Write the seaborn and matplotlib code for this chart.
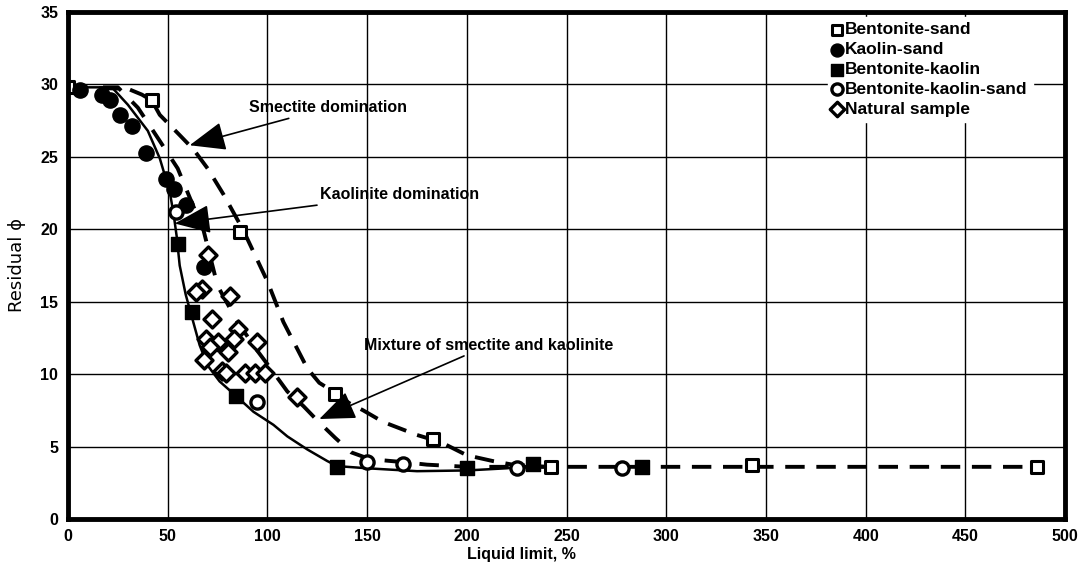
import numpy as np
import pandas as pd
import matplotlib
matplotlib.use("Agg")
import matplotlib.pyplot as plt
import seaborn as sns

# ---------------- data ----------------
bent_sand_x = [0, 42, 86, 134, 183, 242, 343, 486]
bent_sand_y = [29.8, 28.9, 19.8, 8.6, 5.5, 3.6, 3.7, 3.6]

kaolin_sand_x = [6, 17, 21, 26, 32, 39, 49, 53, 59, 68]
kaolin_sand_y = [29.6, 29.3, 28.9, 27.9, 27.1, 25.3, 23.5, 22.8, 21.7, 17.4]

bent_kaolin_x = [55, 62, 84, 135, 200, 233, 288]
bent_kaolin_y = [19.0, 14.3, 8.5, 3.6, 3.5, 3.8, 3.6]

bks_x = [54, 95, 150, 168, 225, 278]
bks_y = [21.2, 8.1, 3.9, 3.8, 3.5, 3.5]

natural_x = [70, 67, 64, 81, 72, 85, 83, 69, 75, 71, 80, 68, 77, 79, 89, 94, 99, 95, 115]
natural_y = [18.2, 15.9, 15.7, 15.4, 13.8, 13.1, 12.4, 12.4, 12.2, 11.9, 11.5, 11.0,
             10.2, 10.1, 10.1, 10.1, 10.1, 12.2, 8.4]

# fitted curves
solid_x = [0, 22, 30, 40, 46, 51, 53, 54.5, 56, 59, 62, 66, 70, 76, 85, 93, 103, 110,
           120, 130, 135, 150, 175, 200, 220, 235]
solid_y = [29.8, 29.8, 28.6, 26.8, 24.9, 22.6, 21.0, 19.5, 17.5, 15.5, 14.0, 12.0, 10.6,
           9.5, 8.4, 7.4, 6.5, 5.7, 4.8, 4.0, 3.65, 3.5, 3.3, 3.35, 3.5, 3.7]

mix_x = [0, 25, 35, 46, 55, 61, 68, 75, 85, 95, 101, 110, 118, 125, 134, 142, 150, 158,
         170, 180, 200, 240]
mix_y = [29.8, 29.8, 28.4, 26.1, 24.2, 22.2, 19.9, 16.1, 13.6, 11.6, 10.5, 8.8, 7.8, 6.8,
         5.6, 4.6, 4.2, 4.05, 3.9, 3.75, 3.6, 3.6]

smec_x = [0, 30, 37, 42, 46, 56, 63, 70, 78, 88, 100, 108, 114, 120, 126, 133, 141, 148,
          158, 175, 187, 200, 213, 223, 240, 300, 487]
smec_y = [29.8, 29.7, 29.3, 28.9, 27.9, 26.5, 25.5, 24.2, 22.4, 19.9, 16.4, 13.6, 12.0,
          10.4, 9.4, 8.8, 8.0, 7.5, 6.7, 5.8, 5.3, 4.4, 4.0, 3.75, 3.6, 3.6, 3.6]

x_ticks = [0, 50, 100, 150, 200, 250, 300, 350, 400, 450, 500]
y_ticks = [0, 5, 10, 15, 20, 25, 30, 35]

# ---------------- styling ----------------
sns.set_theme(style="white")
plt.rcParams["font.family"] = ["Liberation Sans", "DejaVu Sans"]
for k in ["text.color", "axes.labelcolor", "xtick.color", "ytick.color"]:
    plt.rcParams[k] = "black"

fig = plt.figure(figsize=(10.85, 5.72), dpi=100)
ax = fig.add_axes([0.0627, 0.0927, 0.9189, 0.8863])

# curves
sns.lineplot(x=solid_x, y=solid_y, sort=False, estimator=None, color="black",
             linewidth=1.8, ax=ax, zorder=3)
sns.lineplot(x=mix_x, y=mix_y, sort=False, estimator=None, color="black",
             linewidth=2.8, linestyle=(0, (5, 4)), ax=ax, zorder=3)
sns.lineplot(x=smec_x, y=smec_y, sort=False, estimator=None, color="black",
             linewidth=2.8, linestyle=(0, (5, 3)), ax=ax, zorder=3)

# markers
sns.scatterplot(x=bent_sand_x, y=bent_sand_y, marker="s", s=70, color="white",
                edgecolor="black", linewidth=2.2, label="Bentonite-sand", ax=ax, zorder=5)
sns.scatterplot(x=kaolin_sand_x, y=kaolin_sand_y, marker="o", s=120, color="black",
                edgecolor="black", linewidth=1, label="Kaolin-sand", ax=ax, zorder=5)
sns.scatterplot(x=bent_kaolin_x, y=bent_kaolin_y, marker="s", s=100, color="black",
                edgecolor="black", linewidth=1, label="Bentonite-kaolin", ax=ax, zorder=5)
sns.scatterplot(x=bks_x, y=bks_y, marker="o", s=90, color="white",
                edgecolor="black", linewidth=2.4, label="Bentonite-kaolin-sand", ax=ax, zorder=5)
sns.scatterplot(x=natural_x, y=natural_y, marker="D", s=75, color="white",
                edgecolor="black", linewidth=2.4, label="Natural sample", ax=ax, zorder=5)

# axes
ax.set_xlim(0, 500)
ax.set_ylim(0, 35)
ax.set_xticks(x_ticks)
ax.set_yticks(y_ticks)
ax.set_xticklabels([str(v) for v in x_ticks], fontsize=11.5, fontweight="bold")
ax.set_yticklabels([str(v) for v in y_ticks], fontsize=11.5, fontweight="bold")
ax.tick_params(axis="both", length=0, pad=7)
ax.grid(True, color="black", linewidth=1.0)
ax.set_axisbelow(True)
for sp in ax.spines.values():
    sp.set_color("black")
    sp.set_linewidth(3.5)
    sp.set_zorder(6)

ax.set_xlabel("Liquid limit, %", fontsize=11.5, fontweight="bold")
ax.xaxis.set_label_coords(0.455, -0.055)
ax.set_ylabel("Residual \u03d5", fontsize=13, family=["DejaVu Sans"])
ax.yaxis.set_label_coords(-0.042, 0.5)

# annotations
arrow_kw = dict(arrowstyle="-|>,head_length=1.5,head_width=0.6", color="black",
                linewidth=1.2, shrinkA=0, shrinkB=0, mutation_scale=15)
ax.annotate("Smectite domination", xy=(61, 25.8), xytext=(91, 28.4),
            fontsize=11.5, fontweight="bold", va="center", ha="left",
            arrowprops=arrow_kw, zorder=7)
ax.annotate("Kaolinite domination", xy=(53.5, 20.4), xytext=(126.5, 22.4),
            fontsize=11.5, fontweight="bold", va="center", ha="left",
            arrowprops=arrow_kw, zorder=7)
ax.annotate("Mixture of smectite and kaolinite", xy=(126, 6.9), xytext=(148.5, 12.0),
            fontsize=11.5, fontweight="bold", va="center", ha="left",
            arrowprops=arrow_kw, zorder=7)

leg = ax.legend(loc="upper left", bbox_to_anchor=(0.762, 0.99), frameon=True,
                fontsize=12.5, handlelength=0.5, handletextpad=0.2,
                labelspacing=0.27, borderpad=0.3, borderaxespad=0, markerscale=0.85)
leg.get_frame().set_edgecolor("white")
leg.get_frame().set_facecolor("white")
leg.get_frame().set_alpha(1)
leg.set_zorder(8)
for t in leg.get_texts():
    t.set_fontweight("bold")

fig.savefig("out.png", dpi=100)
